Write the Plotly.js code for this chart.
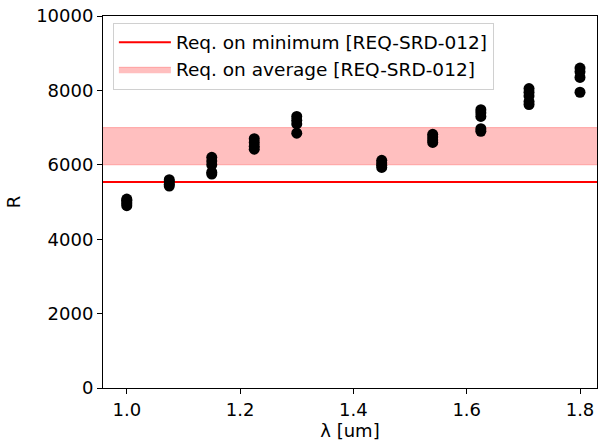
<!DOCTYPE html>
<html>
<head>
<meta charset="utf-8">
<script src="https://cdn.plot.ly/plotly-3.0.1.min.js"></script>
<style>html,body{margin:0;padding:0;background:#fff;}#chart{width:598px;height:442px;}</style>
</head>
<body>
<div id="chart"></div>
<script>
// Data
const wavelengths = [1.0, 1.075, 1.15, 1.225, 1.30, 1.45, 1.54, 1.625, 1.71, 1.80];
const resolutions = [
  [4900, 4950, 5000, 5050, 5080],
  [5430, 5480, 5550, 5600],
  [6200, 6100, 6000, 5800, 5750],
  [6700, 6600, 6500, 6420],
  [7300, 7200, 7100, 6850],
  [6120, 6050, 5990, 5930],
  [6820, 6750, 6670, 6600],
  [7480, 7400, 7300, 6970, 6900],
  [8050, 7950, 7850, 7700, 7620],
  [8600, 8500, 8350, 7950]
];
const reqMinimum = 5540;
const reqAverageLow = 6000;
const reqAverageHigh = 7000;
const lineXExtent = [0.9, 1.9];
const xTicks = [1.0, 1.2, 1.4, 1.6, 1.8];
const xTickLabels = ['1.0', '1.2', '1.4', '1.6', '1.8'];
const yTicks = [0, 2000, 4000, 6000, 8000, 10000];
const yTickLabels = ['0', '2000', '4000', '6000', '8000', '10000'];
const minLabel = "Req. on minimum [REQ-SRD-012]";
const avgLabel = "Req. on average [REQ-SRD-012]";

const px = [], py = [];
wavelengths.forEach((w, i) => resolutions[i].forEach(v => { px.push(w); py.push(v); }));

const traces = [
  {
    x: lineXExtent, y: [reqMinimum, reqMinimum], mode: 'lines', name: minLabel,
    line: {color: '#ff0000', width: 2}
  },
  {
    x: [lineXExtent[0], lineXExtent[1], lineXExtent[1], lineXExtent[0], lineXExtent[0]],
    y: [reqAverageLow, reqAverageLow, reqAverageHigh, reqAverageHigh, reqAverageLow],
    mode: 'lines', fill: 'toself', name: avgLabel,
    fillcolor: 'rgba(255,0,0,0.25)', line: {color: 'rgba(255,0,0,0.25)', width: 1}
  },
  {
    x: px, y: py, mode: 'markers', showlegend: false,
    marker: {color: '#000000', size: 11}
  }
];

const font = {family: 'DejaVu Sans', size: 18, color: '#000'};
const layout = {
  width: 598, height: 442,
  margin: {l: 103, r: 1, t: 16, b: 54},
  paper_bgcolor: '#fff', plot_bgcolor: '#fff',
  font: font,
  showlegend: true,
  legend: {
    x: 0.02, y: 0.982, xanchor: 'left', yanchor: 'top',
    bgcolor: 'rgba(255,255,255,0.8)', bordercolor: '#d0d0d0', borderwidth: 1,
    font: {family: 'DejaVu Sans', size: 18.5, color: '#000'},
    traceorder: 'normal', itemwidth: 52
  },
  xaxis: {
    range: [0.958, 1.83], tickvals: xTicks, ticktext: xTickLabels,
    ticks: 'outside', ticklen: 5, tickcolor: '#000', showgrid: false, zeroline: false,
    showline: true, linecolor: '#000', linewidth: 1, mirror: true,
    title: {text: 'λ [um]', font: font, standoff: 4}
  },
  yaxis: {
    range: [0, 10000], tickvals: yTicks, ticktext: yTickLabels,
    ticks: 'outside', ticklen: 5, tickcolor: '#000', showgrid: false, zeroline: false,
    showline: true, linecolor: '#000', linewidth: 1, mirror: true,
    title: {text: 'R', font: font, standoff: 10}
  }
};

Plotly.newPlot('chart', traces, layout, {displayModeBar: false, staticPlot: true});
</script>
</body>
</html>
